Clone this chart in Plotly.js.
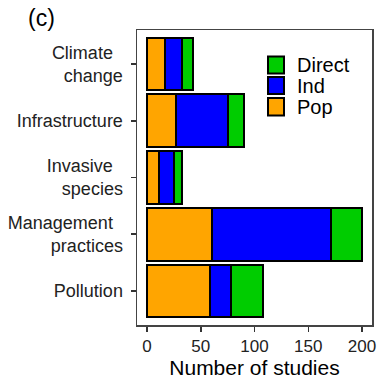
<!DOCTYPE html>
<html>
<head>
<meta charset="utf-8">
<script src="https://cdn.plot.ly/plotly-3.0.1.min.js"></script>
<style>html,body{margin:0;padding:0;background:#fff;}#chart{width:386px;height:387px;}</style>
</head>
<body>
<div id="chart"></div>
<script>
var categories = ["Climate\u00a0\u00a0<br>change", "Infrastructure", "Invasive\u00a0\u00a0<br>species", "Management\u00a0\u00a0<br>practices", "Pollution"];
var popValues = [17, 27, 11, 60, 59];
var indValues = [16, 48, 14, 111, 19];
var directValues = [10, 15, 8, 29, 30];
var xTicks = [0, 50, 100, 150, 200];
var legendNames = ["Direct", "Ind", "Pop"];
var colors = {Pop: "#FFA500", Ind: "#0000FF", Direct: "#00CC00"};

function tr(name, vals) {
  return {
    type: "bar", orientation: "h", name: name,
    y: categories, x: vals,
    marker: {color: colors[name], line: {color: "#000", width: 2}},
    showlegend: false, hoverinfo: "x+name"
  };
}
var data = [tr("Pop", popValues), tr("Ind", indValues), tr("Direct", directValues)];

var L = 137, T = 30, W = 235, H = 295;
var shapes = [], annotations = [];
var legY = [[56.5, 73.5], [77, 94], [98, 115.5]];
legendNames.forEach(function(n, i) {
  shapes.push({type: "rect", xref: "paper", yref: "paper",
    x0: (268 - L) / W, x1: (284 - L) / W,
    y0: 1 - (legY[i][1] - T) / H, y1: 1 - (legY[i][0] - T) / H,
    fillcolor: colors[n], line: {color: "#000", width: 2}});
  annotations.push({xref: "paper", yref: "paper", x: (295 - L) / W,
    y: 1 - ((legY[i][0] + legY[i][1]) / 2 - T) / H,
    xanchor: "left", yanchor: "middle", text: n, showarrow: false,
    font: {size: 20, color: "#000"}});
});
annotations.push({xref: "paper", yref: "paper", x: (26 - L) / W, y: 1 + (T - 18) / H,
  xanchor: "left", yanchor: "middle", text: "(c)", showarrow: false,
  font: {size: 23, color: "#000"}});

var layout = {
  width: 386, height: 387,
  margin: {l: L, r: 14, t: T, b: 62},
  barmode: "stack", bargap: 0.07,
  paper_bgcolor: "#fff", plot_bgcolor: "#fff",
  font: {family: "Liberation Sans, Arial, sans-serif", color: "#000"},
  xaxis: {range: [-9.3, 209.3], tickvals: xTicks, ticks: "outside", ticklen: 5, tickwidth: 1.5,
    tickcolor: "#333", showline: true, linecolor: "#444", linewidth: 1.5, mirror: true,
    showgrid: false, zeroline: false, tickfont: {size: 17, color: "#222"},
    title: {text: "Number of studies", font: {size: 21, color: "#000"}, standoff: 4}},
  yaxis: {range: [4.6, -0.6], ticks: "outside", ticklen: 5, tickwidth: 1.5, tickcolor: "#333",
    showline: true, linecolor: "#444", linewidth: 1.5, mirror: true, showgrid: false,
    zeroline: false, tickfont: {size: 18, color: "#222"}, ticklabelstandoff: 4,
    categoryorder: "array", categoryarray: categories},
  shapes: shapes, annotations: annotations
};
Plotly.newPlot("chart", data, layout, {displayModeBar: false, staticPlot: true});
</script>
</body>
</html>
